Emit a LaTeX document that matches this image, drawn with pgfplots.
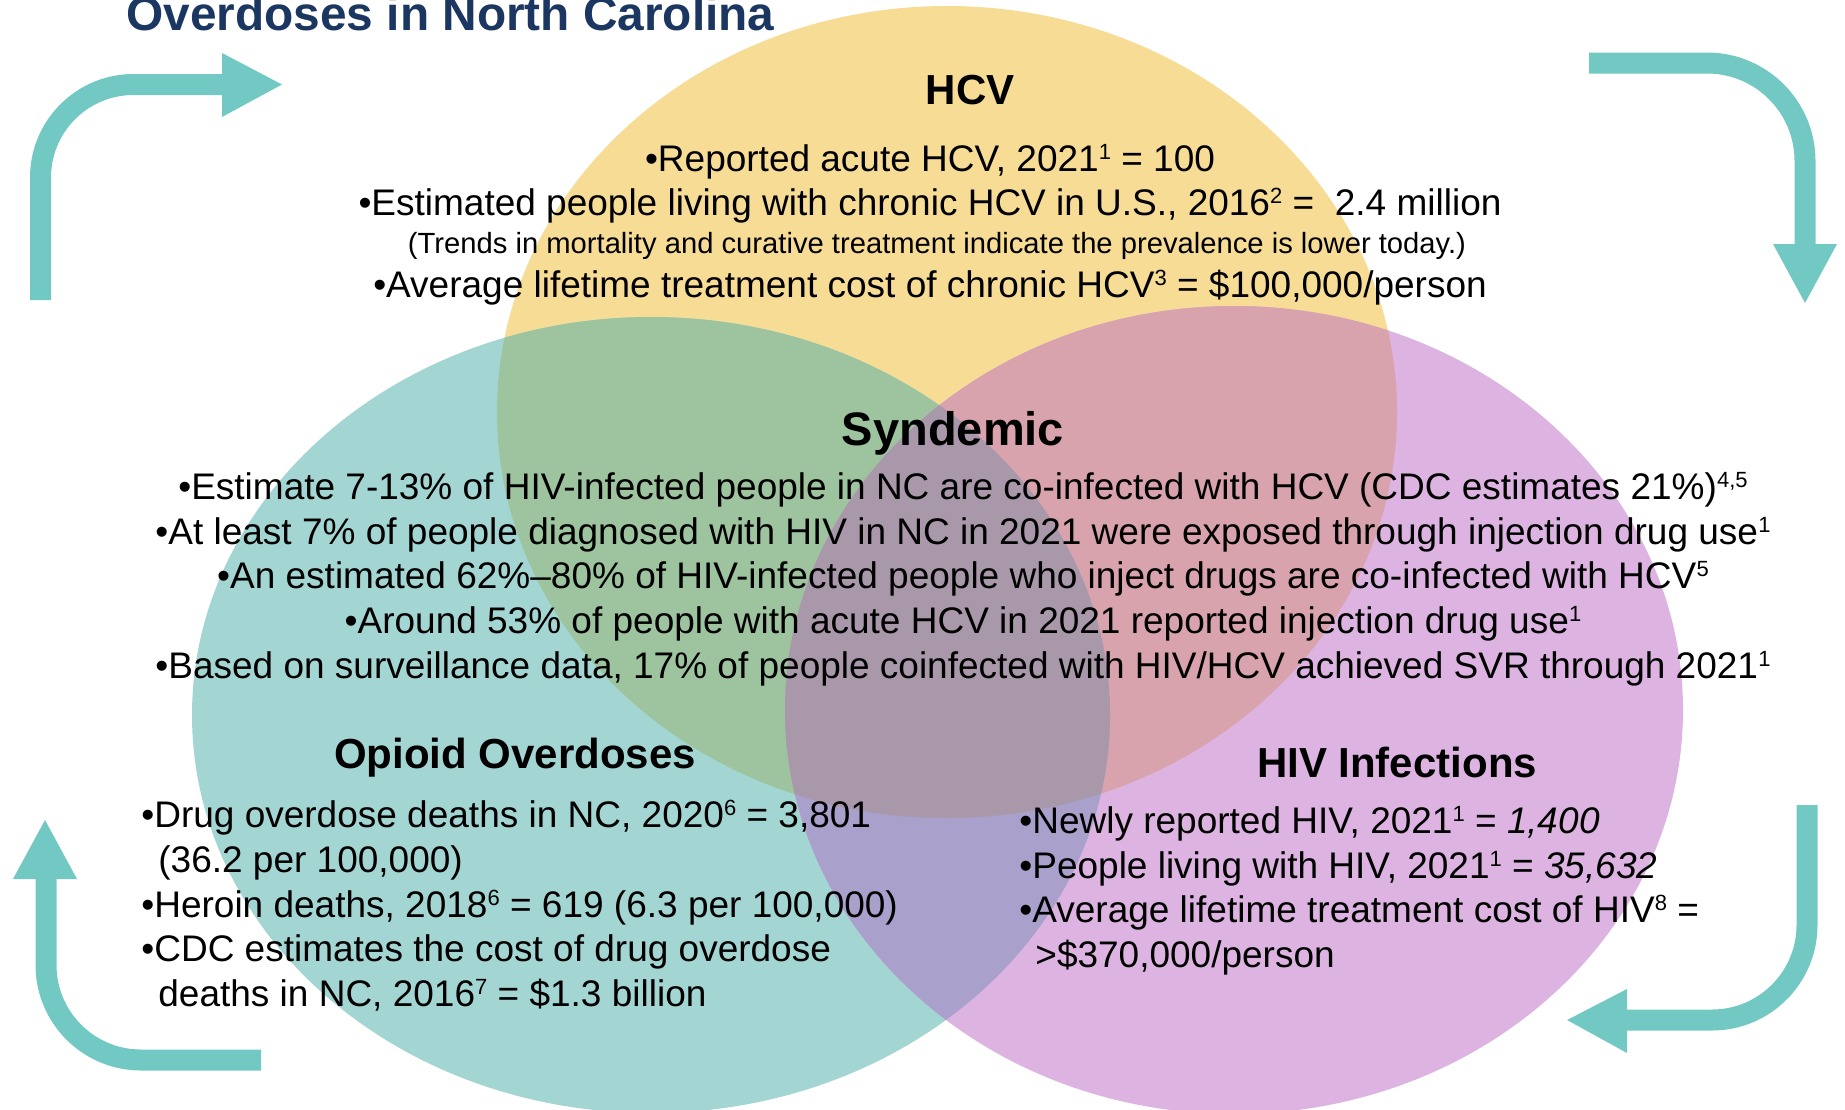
\documentclass[border=0pt]{standalone}
\usepackage{pgfplots}
\pgfplotsset{compat=1.18}
\usepackage{fontspec}
\setmainfont{Liberation Sans}

\definecolor{arrowc}{HTML}{72C9C4}
\definecolor{titlec}{HTML}{1B3761}
\definecolor{yc}{HTML}{F7DC96}
\definecolor{tc}{HTML}{A3D5D2}
\definecolor{pc}{HTML}{DCB3E1}
\definecolor{ytc}{HTML}{9DC49E}
\definecolor{ypc}{HTML}{D8A3AC}
\definecolor{tpc}{HTML}{A9A0CB}
\definecolor{ytpc}{HTML}{A898A9}

\newcommand\bodyf{\fontsize{18.5}{22}\selectfont}
\newcommand\headf{\fontsize{21}{24}\selectfont\bfseries}
\newcommand\sps[1]{\raisebox{0.3em}{\fontsize{11}{11}\selectfont #1}}

\begin{document}
\begin{tikzpicture}
\begin{axis}[
    scale only axis,
    width=922.5pt, height=554.5pt,
    xmin=0, xmax=1845, ymin=0, ymax=1109,
    y dir=reverse,
    hide axis,
]
% circles of the venn diagram
\fill[yc] (axis cs:947,412) ellipse [x radius=450, y radius=406];
\fill[tc] (axis cs:651,715) ellipse [x radius=459, y radius=398];
\fill[pc] (axis cs:1234,710) ellipse [x radius=449, y radius=404];
\begin{scope}
  \clip (axis cs:947,412) ellipse [x radius=450, y radius=406];
  \fill[ytc] (axis cs:651,715) ellipse [x radius=459, y radius=398];
\end{scope}
\begin{scope}
  \clip (axis cs:947,412) ellipse [x radius=450, y radius=406];
  \fill[ypc] (axis cs:1234,710) ellipse [x radius=449, y radius=404];
\end{scope}
\begin{scope}
  \clip (axis cs:651,715) ellipse [x radius=459, y radius=398];
  \fill[tpc] (axis cs:1234,710) ellipse [x radius=449, y radius=404];
\end{scope}
\begin{scope}
  \clip (axis cs:947,412) ellipse [x radius=450, y radius=406];
  \clip (axis cs:651,715) ellipse [x radius=459, y radius=398];
  \fill[ytpc] (axis cs:1234,710) ellipse [x radius=449, y radius=404];
\end{scope}

% cycle arrows
\draw[arrowc, line width=10.5pt, rounded corners=46.5pt] (axis cs:40.5,300) -- (axis cs:40.5,84.5) -- (axis cs:222,84.5);
\addplot[fill=arrowc, draw=none] coordinates {(222,53) (282,84.5) (222,117)} -- cycle;
\draw[arrowc, line width=10.5pt, rounded corners=49pt] (axis cs:1589,63) -- (axis cs:1805,63) -- (axis cs:1805,244);
\addplot[fill=arrowc, draw=none] coordinates {(1773,244) (1805,303) (1837,244)} -- cycle;
\draw[arrowc, line width=10.5pt, rounded corners=47.5pt] (axis cs:261,1060) -- (axis cs:46,1060) -- (axis cs:46,879);
\addplot[fill=arrowc, draw=none] coordinates {(13,879) (45,820) (77,879)} -- cycle;
\draw[arrowc, line width=10.5pt, rounded corners=47.5pt] (axis cs:1807,805) -- (axis cs:1807,1020) -- (axis cs:1627,1020);
\addplot[fill=arrowc, draw=none] coordinates {(1627,989) (1567,1020) (1627,1053)} -- cycle;

% title
\node[anchor=base west, inner sep=0, text=titlec, font=\fontsize{23.9}{28}\selectfont\bfseries] at (axis cs:126,30) {Overdoses in North Carolina};

% HCV
\node[anchor=base, inner sep=0, font=\headf] at (axis cs:970,104) {HCV};
\node[anchor=base, inner sep=0, font=\bodyf] at (axis cs:930,171) {•Reported acute HCV, 2021\sps{1} = 100};
\node[anchor=base, inner sep=0, font=\bodyf] at (axis cs:930,215) {•Estimated people living with chronic HCV in U.S., 2016\sps{2} =\ \ 2.4 million};
\node[anchor=base, inner sep=0, font=\fontsize{14.6}{17}\selectfont] at (axis cs:937,253) {(Trends in mortality and curative treatment indicate the prevalence is lower today.)};
\node[anchor=base, inner sep=0, font=\bodyf] at (axis cs:930,297) {•Average lifetime treatment cost of chronic HCV\sps{3} = \$100,000/person};

% Syndemic
\node[anchor=base, inner sep=0, font=\fontsize{23.5}{28}\selectfont\bfseries] at (axis cs:953,445) {Syndemic};
\node[anchor=base, inner sep=0, font=\bodyf] at (axis cs:963,499) {•Estimate 7-13\% of HIV-infected people in NC are co-infected with HCV (CDC estimates 21\%)\sps{4,5}};
\node[anchor=base, inner sep=0, font=\bodyf] at (axis cs:963,544) {•At least 7\% of people diagnosed with HIV in NC in 2021 were exposed through injection drug use\sps{1}};
\node[anchor=base, inner sep=0, font=\bodyf] at (axis cs:963,588) {•An estimated 62\%–80\% of HIV-infected people who inject drugs are co-infected with HCV\sps{5}};
\node[anchor=base, inner sep=0, font=\bodyf] at (axis cs:963,633) {•Around 53\% of people with acute HCV in 2021 reported injection drug use\sps{1}};
\node[anchor=base, inner sep=0, font=\bodyf] at (axis cs:963,678) {•Based on surveillance data, 17\% of people coinfected with HIV/HCV achieved SVR through 2021\sps{1}};

% Opioid overdoses
\node[anchor=base, inner sep=0, font=\headf] at (axis cs:515,768) {Opioid Overdoses};
\node[anchor=base west, inner sep=0, font=\bodyf] at (axis cs:141,827) {•Drug overdose deaths in NC, 2020\sps{6} = 3,801};
\node[anchor=base west, inner sep=0, font=\bodyf] at (axis cs:158,872) {(36.2 per 100,000)};
\node[anchor=base west, inner sep=0, font=\bodyf] at (axis cs:141,917) {•Heroin deaths, 2018\sps{6} = 619 (6.3 per 100,000)};
\node[anchor=base west, inner sep=0, font=\bodyf] at (axis cs:141,961) {•CDC estimates the cost of drug overdose};
\node[anchor=base west, inner sep=0, font=\bodyf] at (axis cs:158,1006) {deaths in NC, 2016\sps{7} = \$1.3 billion};

% HIV infections
\node[anchor=base, inner sep=0, font=\headf] at (axis cs:1397,777) {HIV Infections};
\node[anchor=base west, inner sep=0, font=\bodyf] at (axis cs:1019,833) {•Newly reported HIV, 2021\sps{1} = \textit{1,400}};
\node[anchor=base west, inner sep=0, font=\bodyf] at (axis cs:1019,878) {•People living with HIV, 2021\sps{1} = \textit{35,632}};
\node[anchor=base west, inner sep=0, font=\bodyf] at (axis cs:1019,922) {•Average lifetime treatment cost of HIV\sps{8} =};
\node[anchor=base west, inner sep=0, font=\bodyf] at (axis cs:1035,967) {>\$370,000/person};
\end{axis}
\pgfresetboundingbox
\path (current axis.south west) rectangle (current axis.north east);
\end{tikzpicture}
\end{document}
